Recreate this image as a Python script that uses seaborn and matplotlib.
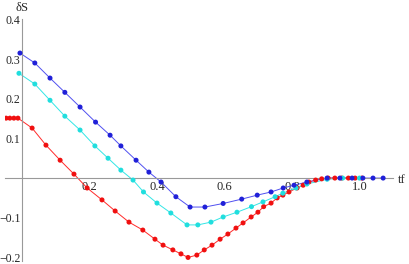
import numpy as np
import pandas as pd
import matplotlib
matplotlib.use("Agg")
import matplotlib.pyplot as plt
import seaborn as sns
from matplotlib.ticker import MultipleLocator, FixedLocator

# values
red_t = [-0.047, -0.036, -0.024, -0.012, 0.030, 0.071, 0.113, 0.154, 0.193, 0.237,
         0.276, 0.317, 0.358, 0.394, 0.418, 0.447, 0.471, 0.492, 0.518, 0.540,
         0.563, 0.587, 0.610, 0.634, 0.655, 0.679, 0.699, 0.716, 0.738, 0.756,
         0.773, 0.791, 0.815, 0.833, 0.850, 0.870, 0.888, 0.907, 0.927, 0.947,
         0.967, 0.987, 1.007]
red_s = [0.151, 0.151, 0.151, 0.151, 0.126, 0.083, 0.045, 0.010, -0.025, -0.055,
         -0.083, -0.111, -0.131, -0.154, -0.169, -0.181, -0.191, -0.200, -0.194, -0.181,
         -0.169, -0.154, -0.141, -0.126, -0.113, -0.098, -0.086, -0.072, -0.063, -0.050,
         -0.043, -0.035, -0.025, -0.018, -0.010, -0.005, -0.002, 0.0, 0.0, 0.0,
         0.0, 0.0, 0.0]

cyan_t = [-0.009, 0.038, 0.083, 0.127, 0.172, 0.216, 0.255, 0.293, 0.329, 0.360,
          0.400, 0.441, 0.489, 0.521, 0.560, 0.596, 0.637, 0.680, 0.714, 0.750,
          0.773, 0.812, 0.844, 0.904, 0.950, 1.000]
cyan_s = [0.264, 0.237, 0.196, 0.156, 0.121, 0.081, 0.050, 0.020, -0.005, -0.035,
          -0.063, -0.088, -0.118, -0.118, -0.111, -0.098, -0.086, -0.072, -0.060, -0.047,
          -0.038, -0.025, -0.015, -0.003, 0.0, 0.0]

blue_t = [-0.006, 0.038, 0.083, 0.127, 0.172, 0.218, 0.261, 0.293, 0.338, 0.376,
          0.412, 0.456, 0.498, 0.542, 0.596, 0.651, 0.697, 0.738, 0.774, 0.806,
          0.844, 0.904, 0.942, 0.978, 1.010, 1.040, 1.070]
blue_s = [0.315, 0.290, 0.252, 0.216, 0.179, 0.141, 0.108, 0.081, 0.045, 0.015,
          -0.010, -0.047, -0.073, -0.073, -0.064, -0.053, -0.043, -0.035, -0.025, -0.018,
          -0.010, 0.0, 0.0, 0.0, 0.0, 0.0, 0.0]

x_ticks = [0.2, 0.4, 0.6, 0.8, 1.0]
y_ticks = [-0.2, -0.1, 0.1, 0.2, 0.3, 0.4]

df = pd.concat([
    pd.DataFrame({"tf": red_t, "dS": red_s, "run": "red"}),
    pd.DataFrame({"tf": cyan_t, "dS": cyan_s, "run": "cyan"}),
    pd.DataFrame({"tf": blue_t, "dS": blue_s, "run": "blue"}),
])

sns.set_style("white")
plt.rcParams["font.family"] = ["Liberation Serif", "DejaVu Serif"]

line_cols = {"red": "#ff2a2a", "cyan": "#33e6e6", "blue": "#5050f0"}
dot_cols = {"red": "#f01010", "cyan": "#20dede", "blue": "#2020d8"}

fig = plt.figure(figsize=(4.09, 2.64), dpi=100)
ax = fig.add_axes([0.0125, 0.0098, 0.949, 0.917])

sns.lineplot(data=df, x="tf", y="dS", hue="run", palette=line_cols, sort=False,
             estimator=None, linewidth=0.7, legend=False, ax=ax)
sns.scatterplot(data=df, x="tf", y="dS", hue="run", palette=dot_cols, s=13,
                linewidth=0, legend=False, ax=ax, zorder=3)

ax.set_xlim(-0.05, 1.1)
ax.set_ylim(-0.21, 0.40)

for side in ["top", "right"]:
    ax.spines[side].set_visible(False)
ax.spines["left"].set_position(("data", 0))
ax.spines["bottom"].set_position(("data", 0))
for side in ["left", "bottom"]:
    ax.spines[side].set_color("#999999")
    ax.spines[side].set_linewidth(0.8)

ax.xaxis.set_major_locator(FixedLocator(x_ticks))
ax.xaxis.set_minor_locator(MultipleLocator(0.05))
ax.yaxis.set_major_locator(FixedLocator(y_ticks))
ax.yaxis.set_minor_locator(MultipleLocator(0.02))
ax.set_xticklabels([f"{v:.1f}" for v in x_ticks])
ax.set_yticklabels([f"{v:.1f}".replace("-", "\u2212") for v in y_ticks])
ax.tick_params(which="major", direction="in", length=4, width=0.7, color="#999999",
               labelsize=9, pad=2)
ax.tick_params(axis="y", which="major", labelsize=8.5, pad=1)
ax.tick_params(which="minor", direction="in", length=2, width=0.6, color="#999999")

ax.set_xlabel("")
ax.set_ylabel("")
fig.text(22 / 409, 1 - 8 / 264, "\u03b4S", fontsize=9, ha="center", va="center")
fig.text(402 / 409, 1 - 180 / 264, "tf", fontsize=9, ha="center", va="center")

fig.savefig("out.png", dpi=100)
